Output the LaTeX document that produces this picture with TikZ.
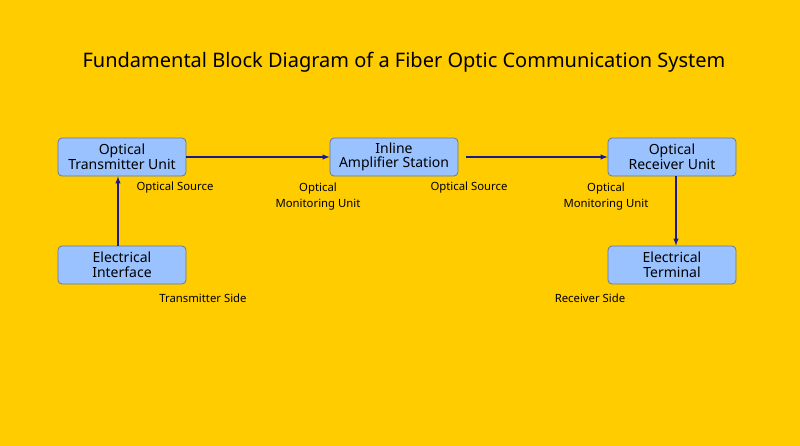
\documentclass[tikz,border=0pt]{standalone}
\usepackage{fontspec}
\setmainfont{Noto Sans}
\usetikzlibrary{positioning}
\definecolor{bgyellow}{RGB}{255,204,0}
\definecolor{boxblue}{RGB}{153,194,255}
\definecolor{boxedge}{RGB}{110,120,140}
\definecolor{arrowblue}{RGB}{26,26,140}
\tikzset{every picture/.style={line width=0.75pt}}
\tikzset{
  blk/.style={draw=boxedge,fill=boxblue,rounded corners=3pt,minimum width=96pt,minimum height=28.5pt,inner sep=0pt,align=center,font=\fontsize{10.5}{11}\selectfont,line width=0.6pt},
  lbl/.style={align=center,inner sep=0.75pt,font=\fontsize{8.5}{12}\selectfont},
  flow/.style={draw=arrowblue,line width=0.8pt,-latex}
}
\begin{document}
\begin{tikzpicture}[x=0.75pt,y=0.75pt,yscale=-1,xscale=1]
\fill[bgyellow] (0,0) rectangle (800,446);
\useasboundingbox (0,0) rectangle (800,446);

\node (title) at (404,62) [font=\fontsize{15}{18}\selectfont] {Fundamental Block Diagram of a Fiber Optic Communication System};

\node [blk] (tx) at (122,157) {Optical\\Transmitter Unit};
\node [blk] (amp) at (394,157) {Inline\\Amplifier Station};
\node [blk] (rx) at (672,157) {Optical\\Receiver Unit};
\node [blk] (ei) at (122,265) {Electrical\\Interface};
\node [blk] (et) at (672,265) {Electrical\\Terminal};

\coordinate (ampout) at (466,157);

\draw [flow] (tx) -- (amp);
\draw [flow] (ampout) -- (rx);
\draw [flow] (ei.north -| 118,0) -- (tx.south -| 118,0);
\draw [flow] (rx.south -| 676,0) -- (et.north -| 676,0);

\node [lbl] (src1) at (175,188) {Optical Source};
\node [lbl] (mon1) at (318,197) {Optical\\Monitoring Unit};
\node [lbl] (src2) at (469,188) {Optical Source};
\node [lbl] (mon2) at (606,197) {Optical\\Monitoring Unit};
\node [lbl] (txside) at (203,298) {Transmitter Side};
\node [lbl] (rxside) at (590,298) {Receiver Side};
\end{tikzpicture}
\end{document}
